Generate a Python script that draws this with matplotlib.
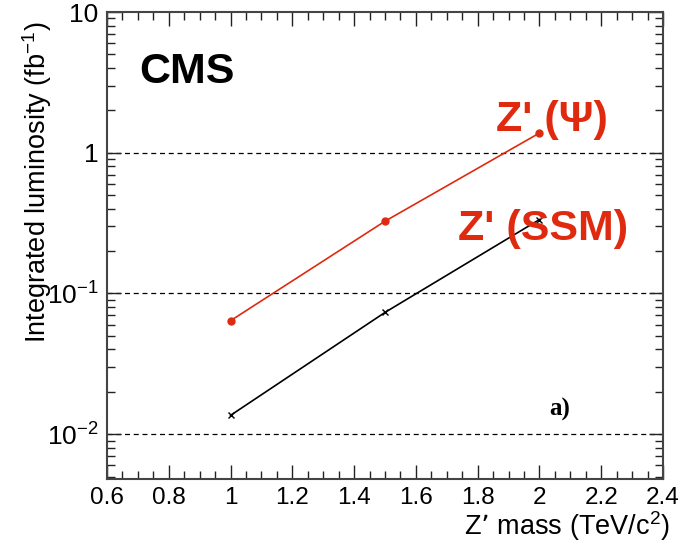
import matplotlib
matplotlib.use("Agg")
import matplotlib.pyplot as plt
from matplotlib.ticker import MultipleLocator, LogLocator, NullFormatter

plt.rcParams['font.family'] = ['Liberation Sans', 'DejaVu Sans']
plt.rcParams['mathtext.default'] = 'regular'

# Z' mass points (TeV/c^2) and the integrated luminosity needed (fb^-1)
mass = [1.0, 1.5, 2.0]
lumi_psi = [0.064, 0.326, 1.38]
lumi_ssm = [0.0136, 0.0733, 0.335]

ytick_vals = [0.01, 0.1, 1, 10]
ytick_labels = ['10$^{-2}$', '10$^{-1}$', '1', '10']
xtick_vals = [0.6, 0.8, 1.0, 1.2, 1.4, 1.6, 1.8, 2.0, 2.2, 2.4]
xtick_labels = ['0.6', '0.8', '1', '1.2', '1.4', '1.6', '1.8', '2', '2.2', '2.4']

red = '#e02a10'

fig = plt.figure(figsize=(6.89, 5.47), dpi=100)
ax = fig.add_axes([107/689, 1 - 479/547, (663 - 107)/689, (479 - 12)/547])

ax.set_yscale('log')
ax.set_xlim(0.6, 2.4)
ax.set_ylim(0.0048, 10)

# dashed lines at each decade
for v in ytick_vals[:-1]:
    ax.axhline(v, color='black', lw=0.9, ls=(0, (4, 3)), zorder=1)

ax.plot(mass, lumi_psi, color=red, lw=1.2, marker='o', ms=5, mfc=red, mec=red, zorder=3)
ax.plot(mass, lumi_ssm, color='black', lw=1.2, marker='x', ms=5, mew=1.0, zorder=3)

ax.set_xticks(xtick_vals, xtick_labels)
ax.set_yticks(ytick_vals, ytick_labels)
ax.xaxis.set_minor_locator(MultipleLocator(0.05))
ax.yaxis.set_minor_locator(LogLocator(base=10, subs=range(2, 10)))
ax.yaxis.set_minor_formatter(NullFormatter())

ax.tick_params(which='both', direction='in', top=True, right=True,
               color='#222222', width=1.0)
ax.tick_params(which='major', length=10, pad=6)
ax.tick_params(axis='x', which='major', labelsize=17.5)
ax.tick_params(axis='y', which='major', labelsize=19)
ax.tick_params(which='minor', length=6)
for s in ax.spines.values():
    s.set_linewidth(1.5)
    s.set_color('#444444')

ax.set_ylabel('Integrated luminosity (fb$^{-1}$)', fontsize=19.5)
ax.yaxis.set_label_coords(-0.095, 0.636)
ax.set_xlabel('Z\u2019 mass (TeV/c$^{2}$)', fontsize=19.5, loc='right')
ax.xaxis.set_label_coords(1.013, -0.064)

ax.text(0.144, 0.872, 'CMS', transform=ax.transAxes, fontsize=31,
        fontweight='bold', ha='center', va='center')
ax.text(0.800, 0.769, "Z' (\u03a8)", transform=ax.transAxes, fontsize=31,
        fontweight='bold', color=red, ha='center', va='center')
ax.text(0.784, 0.535, "Z' (SSM)", transform=ax.transAxes, fontsize=31,
        fontweight='bold', color=red, ha='center', va='center')
ax.text(0.815, 0.148, 'a)', transform=ax.transAxes, fontsize=18,
        fontweight='bold', family='Liberation Serif', ha='center', va='center')

fig.savefig('out.png', dpi=100)
